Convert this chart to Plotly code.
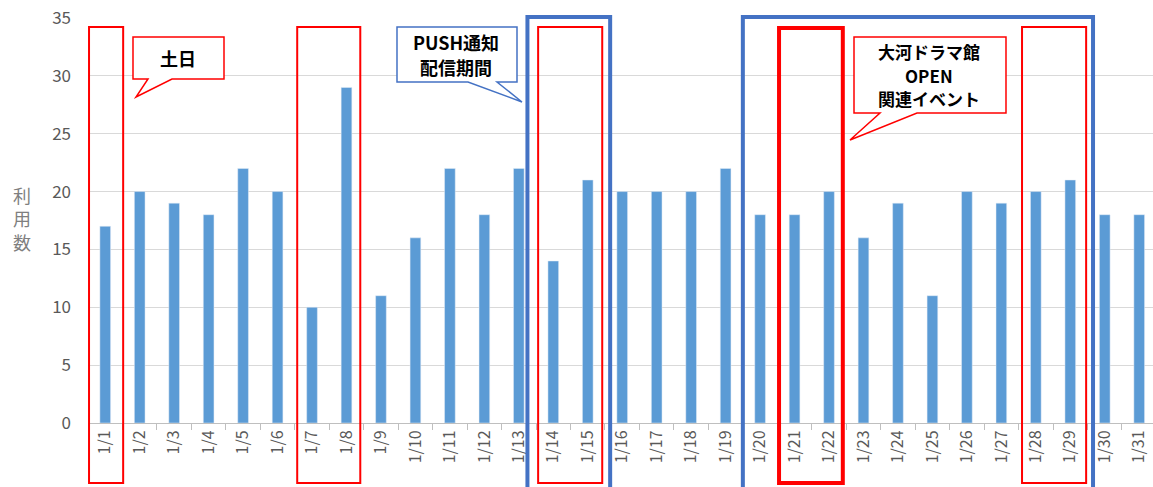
import plotly.graph_objects as go

days = [f"1/{d}" for d in range(1, 32)]
counts = [17, 20, 19, 18, 22, 20, 10, 29, 11, 16, 22, 18, 22, 14, 21,
          20, 20, 20, 22, 18, 18, 20, 16, 19, 11, 20, 19, 20, 21, 18, 18]
y_ticks = [0, 5, 10, 15, 20, 25, 30, 35]

W, H = 1153, 487
ML, MR, MT, MB = 88, 0, 18, 64
PW, PH = W - ML - MR, H - MT - MB

def P(px, py):
    return (px - ML) / PW, (H - MB - py) / PH

def path(points):
    pts = [P(x, y) for x, y in points]
    s = "M " + " L ".join(f"{x:.5f},{y:.5f}" for x, y in pts) + " Z"
    return s

FONT = "Noto Sans CJK JP"
RED = "#FF0000"
BLUE = "#4472C4"

fig = go.Figure(go.Bar(x=days, y=counts, marker_color="#5B9BD5", width=0.31))

shapes = []
def rect(i0, i1, py0, py1, color, w):
    shapes.append(dict(type="rect", xref="x", yref="paper",
                       x0=i0, x1=i1, y0=P(0, py0)[1], y1=P(0, py1)[1],
                       line=dict(color=color, width=w), fillcolor="rgba(0,0,0,0)"))

# red weekend frames
rect(-0.47, 0.52, 483, 27, RED, 2)
rect(6 - 0.43, 7 + 0.4, 483, 27, RED, 2)
rect(13 - 0.44, 14 + 0.42, 483, 27, RED, 2)
rect(20 - 0.45, 21 + 0.4, 483, 28, RED, 4)
rect(27 - 0.4, 28 + 0.46, 483, 27, RED, 2)
# blue period frames
rect(13 - 0.75, 14 + 0.65, 505, 17, BLUE, 4)
rect(18.5, 28.66, 505, 17, BLUE, 4)

# callouts
shapes.append(dict(type="path", xref="paper", yref="paper",
                   path=path([(133, 37), (224, 37), (224, 79), (172, 79), (136, 97), (148, 79), (133, 79)]),
                   line=dict(color=RED, width=1.5), fillcolor="white"))
shapes.append(dict(type="path", xref="paper", yref="paper",
                   path=path([(397, 27), (517, 27), (517, 82), (497, 82), (522, 102), (468, 82), (397, 82)]),
                   line=dict(color=BLUE, width=1.5), fillcolor="white"))
shapes.append(dict(type="path", xref="paper", yref="paper",
                   path=path([(854, 37), (1006, 37), (1006, 113), (917, 113), (850, 140), (880, 113), (854, 113)]),
                   line=dict(color=RED, width=1.5), fillcolor="white"))

annotations = []
def note(px, py, text, size):
    x, y = P(px, py)
    annotations.append(dict(xref="paper", yref="paper", x=x, y=y, text=text,
                            showarrow=False, xanchor="center", yanchor="middle",
                            font=dict(family=FONT, size=size, color="black")))

note(178, 58, "<b>土日</b>", 18)
note(456, 42, "<b>PUSH通知</b>", 18)
note(456, 67, "<b>配信期間</b>", 18)
note(929, 51, "<b>大河ドラマ館</b>", 17)
note(929, 75, "<b>OPEN</b>", 17)
note(929, 98, "<b>関連イベント</b>", 17)

x, y = P(22, 218)
annotations.append(dict(xref="paper", yref="paper", x=x, y=y, text="利<br>用<br>数",
                        showarrow=False, xanchor="center", yanchor="middle",
                        font=dict(family=FONT, size=18, color="#7f7f7f")))

fig.update_layout(
    width=W, height=H,
    margin=dict(l=ML, r=MR, t=MT, b=MB, pad=0),
    paper_bgcolor="white", plot_bgcolor="white",
    showlegend=False,
    shapes=shapes, annotations=annotations,
    font=dict(family=FONT, color="#595959"),
)
fig.update_xaxes(type="category", range=[-0.5, 30.4], tickangle=-90,
                 tickson="boundaries", ticks="outside", ticklen=6, tickcolor="#bfbfbf",
                 showline=True, linecolor="#bfbfbf", linewidth=1, showgrid=False,
                 tickfont=dict(family=FONT, size=16, color="#595959"))
fig.update_yaxes(range=[0, 35], tickvals=y_ticks, showgrid=True, gridcolor="#d9d9d9",
                 zeroline=False, showline=False, ticklabelstandoff=16,
                 tickfont=dict(family=FONT, size=17, color="#595959"))

fig.write_html("out.html")
